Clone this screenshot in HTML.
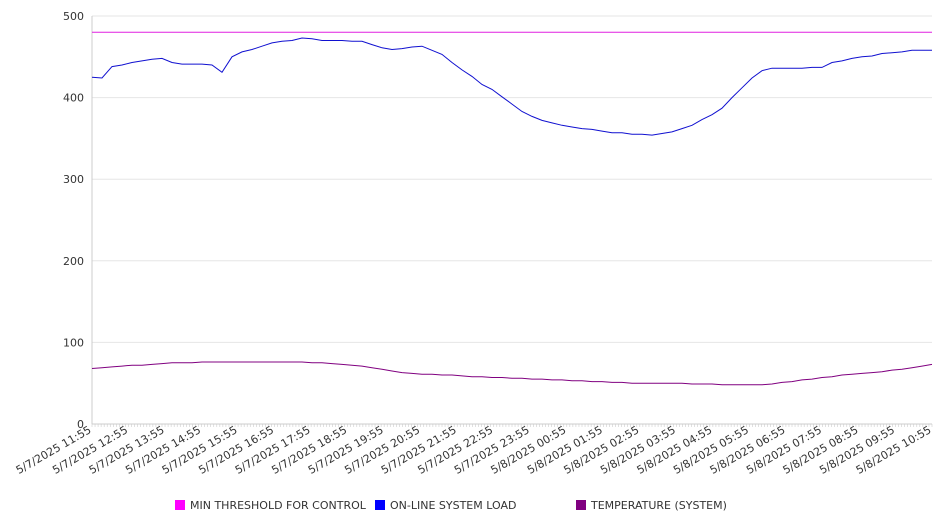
<!DOCTYPE html>
<html><head><meta charset="utf-8"><style>
body{margin:0;background:#fff;font-family:"Liberation Sans","DejaVu Sans",sans-serif;}
svg text{font-family:"DejaVu Sans","Liberation Sans",sans-serif;fill:#333;font-size:11px;}
</style></head><body>
<svg id="chart" width="946" height="526" xmlns="http://www.w3.org/2000/svg"></svg>
<script>
const yTicks=[0,100,200,300,400,500];
const xLabels=["5/7/2025 11:55","5/7/2025 12:55","5/7/2025 13:55","5/7/2025 14:55","5/7/2025 15:55","5/7/2025 16:55","5/7/2025 17:55","5/7/2025 18:55","5/7/2025 19:55","5/7/2025 20:55","5/7/2025 21:55","5/7/2025 22:55","5/7/2025 23:55","5/8/2025 00:55","5/8/2025 01:55","5/8/2025 02:55","5/8/2025 03:55","5/8/2025 04:55","5/8/2025 05:55","5/8/2025 06:55","5/8/2025 07:55","5/8/2025 08:55","5/8/2025 09:55","5/8/2025 10:55"];
const threshold=[480,480];
const load=[425,424,438,440,443,445,447,448,443,441,441,441,440,431,450,456,459,463,467,469,470,473,472,470,470,470,469,469,465,461,459,460,462,463,458,453,443,434,426,416,410,401,392,383,377,372,369,366,364,362,361,359,357,357,355,355,354,356,358,362,366,373,379,387,400,412,424,433,436,436,436,436,437,437,443,445,448,450,451,454,455,456,458,458,458];
const temp=[68,69,70,71,72,72,73,74,75,75,75,76,76,76,76,76,76,76,76,76,76,76,75,75,74,73,72,71,69,67,65,63,62,61,61,60,60,59,58,58,57,57,56,56,55,55,54,54,53,53,52,52,51,51,50,50,50,50,50,50,49,49,49,48,48,48,48,48,49,51,52,54,55,57,58,60,61,62,63,64,66,67,69,71,73];
const svg=document.getElementById('chart');
const NS='http://www.w3.org/2000/svg';
const X0=92,X1=932,Y0=424,Y1=16;
const yS=v=>Y0-(v/500)*(Y0-Y1);
const xS=(i,n)=>X0+(i/(n-1))*(X1-X0);
function mk(t,a,p){const e=document.createElementNS(NS,t);for(const k in a)e.setAttribute(k,a[k]);(p||svg).appendChild(e);return e;}
yTicks.forEach(v=>{
 const g=mk('line',{x1:X0,x2:X1,y1:yS(v),y2:yS(v),stroke:v===0?'#ccc':'#e6e6e6','stroke-width':1});
 
 
 const t=mk('text',{x:84,y:yS(v)+4,'text-anchor':'end'});t.textContent=v;
 
 
});
const ax=mk('line',{x1:X0,x2:X0,y1:Y1,y2:Y0,stroke:'#ccc'});


const nMinor=277;
for(let i=0;i<nMinor;i++){const x=X0+i*(X1-X0)/(nMinor-1);
 const m=mk('line',{x1:x,x2:x,y1:Y0,y2:Y0+3,stroke:'#ccc','stroke-width':0.6});
 
 }
const step=(X1-X0)*12/(nMinor-1);
xLabels.forEach((l,i)=>{const x=X0+i*step;
 const t=mk('text',{x:x,y:432,'text-anchor':'end','font-size':'10.5',transform:`rotate(-30 ${x} 432)`});t.textContent=l;
 
 });
function line(arr,color,name){const d=arr.map((v,i)=>(i?'L':'M')+xS(i,arr.length).toFixed(1)+' '+yS(v).toFixed(1)).join(' ');
 const p=mk('path',{d:d,fill:'none',stroke:color,'stroke-width':1});
 
 }
line(threshold,'#e020e0','threshold-line');
line(load,'#1010d0','load-line');
line(temp,'#800080','temperature-line');
const legend=[["MIN THRESHOLD FOR CONTROL","#ff00ff",175],["ON-LINE SYSTEM LOAD","#0000ff",375],["TEMPERATURE (SYSTEM)","#800080",576]];
legend.forEach(([n,c,x])=>{
 const r=mk('rect',{x:x,y:500,width:10,height:10,fill:c});
 
 
 const t=mk('text',{x:x+15,y:509});t.textContent=n;
 
 
});
</script>
</body></html>
